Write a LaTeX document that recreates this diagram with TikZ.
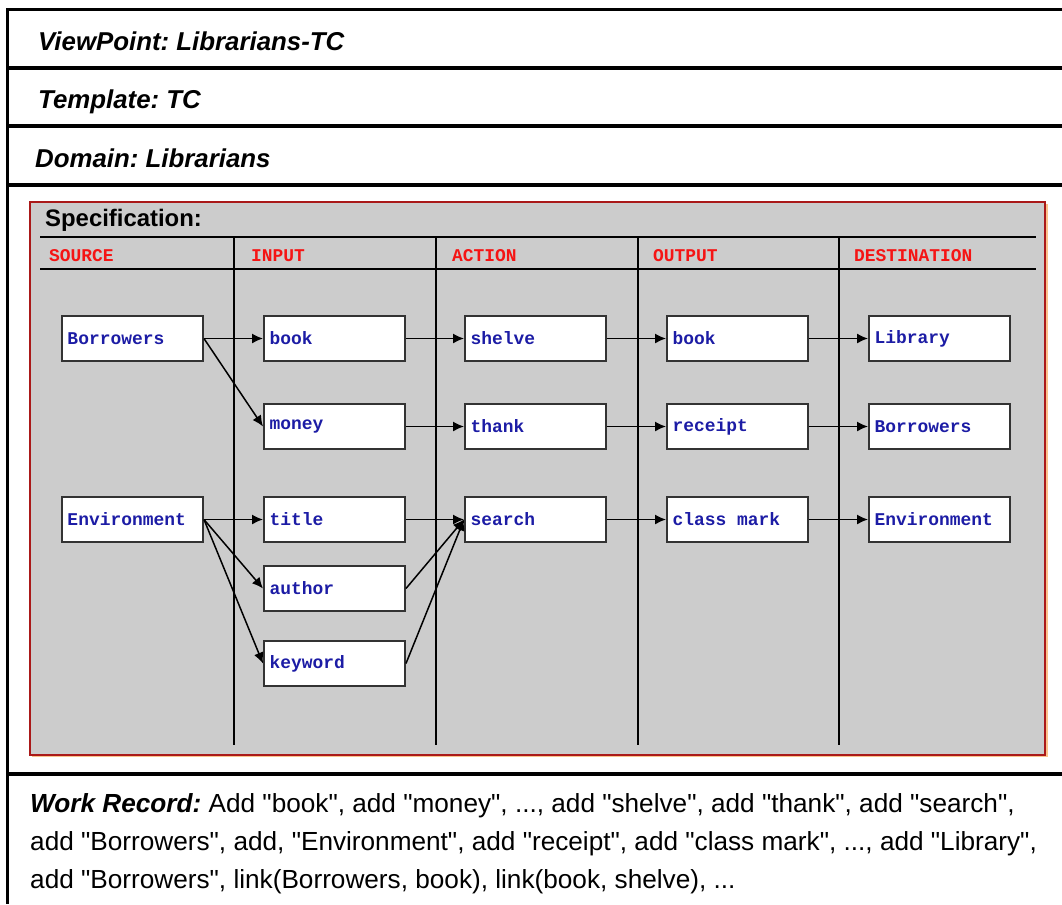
\documentclass[tikz,border=0pt]{standalone}
\usepackage{fontspec}
\setmainfont{Liberation Sans}[Ligatures=TeXOff]
\newfontfamily\macmono{Liberation Mono}
\usetikzlibrary{arrows.meta}
\definecolor{panelgrey}{RGB}{204,204,204}
\definecolor{panelred}{RGB}{170,25,25}
\definecolor{panelshade}{RGB}{250,195,140}
\definecolor{itemblue}{RGB}{28,28,165}
\definecolor{headred}{RGB}{245,20,20}
\frenchspacing
\begin{document}
\begin{tikzpicture}[x=0.02cm, y=-0.02cm,
    item/.style={draw=black!80, line width=0.04cm, fill=white, anchor=west,
        minimum height=0.9cm, text width=2.6cm, inner xsep=0.11cm, align=left,
        text=itemblue, font=\macmono\bfseries\fontsize{10.2}{12}\selectfont},
    link/.style={line width=0.03cm, -{Latex[length=0.22cm,width=0.2cm]}},
    head/.style={anchor=base west, font=\fontsize{14.7}{18}\selectfont\bfseries\itshape},
    colhead/.style={anchor=base west, text=headred, font=\macmono\bfseries\fontsize{10.2}{12}\selectfont}]
    \useasboundingbox (0,0) rectangle (1062,904);
    % Cadre
    \draw[line width=0.06cm] (1062,9) -- (7.5,9) -- (7.5,904);
    \foreach \y in {68,126,185,774}{
        \draw[line width=0.08cm] (7.5,\y) -- (1062,\y);
    }
    \node[head] at (32,50) {ViewPoint: Librarians-TC};
    \node[head] at (32,108) {Template: TC};
    \node[head] at (29,167) {Domain: Librarians};
    % Specification
    \fill[panelshade] (32,204) rectangle (1048,757);
    \draw[panelred, line width=0.04cm, fill=panelgrey] (30,202) rectangle (1045,755);
    \node[anchor=base west, font=\bfseries\fontsize{13.6}{16}\selectfont] at (39,226) {Specification:};
    \draw[line width=0.04cm] (40,237) -- (1036,237);
    \draw[line width=0.04cm] (40,269) -- (1036,269);
    \foreach \x in {234,436,638,839}{
        \draw[line width=0.04cm] (\x,237) -- (\x,745);
    }
    \foreach \x/\t in {43/SOURCE,245/INPUT,446/ACTION,647/OUTPUT,848/DESTINATION}{
        \node[colhead] at (\x,261) {\t};
    }
    % Boites
    \node[item] (src1) at (61,338.5) {Borrowers};
    \node[item] (src2) at (61,519.5) {Environment};
    \node[item] (in1) at (263,338.5) {book};
    \node[item] (in2) at (263,426.5) {money};
    \node[item] (in3) at (263,519.5) {title};
    \node[item] (in4) at (263,588.5) {author};
    \node[item] (in5) at (263,663.5) {keyword};
    \node[item] (act1) at (464,338.5) {shelve};
    \node[item] (act2) at (464,426.5) {thank};
    \node[item] (act3) at (464,519.5) {search};
    \node[item] (out1) at (666,338.5) {book};
    \node[item] (out2) at (666,426.5) {receipt};
    \node[item] (out3) at (666,519.5) {class\hspace{0.6em}mark};
    \node[item] (dst1) at (868,338.5) {Library};
    \node[item] (dst2) at (868,426.5) {Borrowers};
    \node[item] (dst3) at (868,519.5) {Environment};
    % Liens
    \draw[link] (src1.east) -- (in1.west);
    \draw[link] (src1.east) -- (in2.west);
    \draw[link] (src2.east) -- (in3.west);
    \draw[link] (src2.east) -- (in4.west);
    \draw[link] (src2.east) -- (in5.west);
    \draw[link] (in1.east) -- (act1.west);
    \draw[link] (in2.east) -- (act2.west);
    \draw[link] (in3.east) -- (act3.west);
    \draw[link] (in4.east) -- (act3.west);
    \draw[link] (in5.east) -- (act3.west);
    \foreach \i in {1,2,3}{
        \draw[link] (act\i.east) -- (out\i.west);
        \draw[link] (out\i.east) -- (dst\i.west);
    }
    % Work Record
    \node[anchor=base west, font=\fontsize{14.9}{18}\selectfont] at (24,812) {\textbf{\textit{Work Record:}} Add "book", add "money", ..., add "shelve", add "thank", add "search",};
    \node[anchor=base west, font=\fontsize{14.9}{18}\selectfont] at (24,850) {add "Borrowers", add, "Environment", add "receipt", add "class mark", ..., add "Library",};
    \node[anchor=base west, font=\fontsize{14.9}{18}\selectfont] at (24,888) {add "Borrowers", link(Borrowers, book), link(book, shelve), ...};
\end{tikzpicture}
\end{document}
